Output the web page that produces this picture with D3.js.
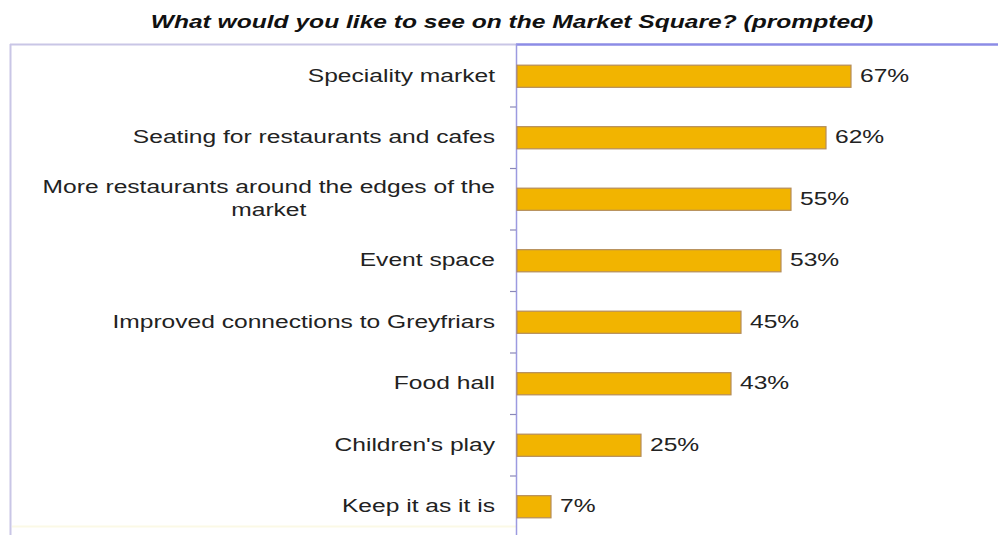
<!DOCTYPE html>
<html>
<head>
<meta charset="utf-8">
<script src="https://cdn.jsdelivr.net/npm/d3@7"></script>
<style>
  html, body { margin: 0; padding: 0; background: #ffffff; }
  svg { display: block; }
</style>
</head>
<body>
<svg id="chart" width="998" height="535"></svg>
<script>
// Survey responses, prompted
const categories = [
  "Speciality market",
  "Seating for restaurants and cafes",
  "More restaurants around the edges of the\nmarket",
  "Event space",
  "Improved connections to Greyfriars",
  "Food hall",
  "Children's play",
  "Keep it as it is"
];
const values = [67, 62, 55, 53, 45, 43, 25, 7];
const titleText = "What would you like to see on the Market Square? (prompted)";

const W = 998, H = 535;
const plotLeft = 516, plotTop = 45.5, plotBottom = 537.5;
const font = "'Liberation Sans', Arial, sans-serif";
const fontSize = 18.5;
const stretch = 1.33;   // text is drawn wide

const svg = d3.select("#chart");

const x = d3.scaleLinear().domain([0, 100]).range([plotLeft, plotLeft + 500]);
const y = d3.scaleBand().domain(categories)
  .range([plotTop, plotBottom]).paddingInner(0.64).paddingOuter(0.32);

// outer chart frame
svg.append("line").attr("x1", 10.5).attr("x2", 10.5).attr("y1", 44).attr("y2", H)
  .attr("stroke", "#c9c6e6").attr("stroke-width", 2);
svg.append("line").attr("x1", 10).attr("x2", plotLeft).attr("y1", 44.5).attr("y2", 44.5)
  .attr("stroke", "#c9c6e6").attr("stroke-width", 2);
svg.append("line").attr("x1", 12).attr("x2", plotLeft).attr("y1", 526.5).attr("y2", 526.5)
  .attr("stroke", "#fbf9e6").attr("stroke-width", 2);

// plot area top border
svg.append("line").attr("x1", plotLeft).attr("x2", W).attr("y1", 44.5).attr("y2", 44.5)
  .attr("stroke", "#8c8ce6").attr("stroke-width", 2.5);

// title
svg.append("g")
  .attr("transform", `translate(512,28) scale(${stretch},1)`)
  .append("text")
  .attr("text-anchor", "middle")
  .style("font-family", font)
  .style("font-size", fontSize + "px")
  .style("font-weight", "bold")
  .style("font-style", "italic")
  .style("fill", "#111")
  .text(titleText);

// category axis line and ticks between bands
const step = y.step();
svg.append("line").attr("x1", plotLeft + 0.5).attr("x2", plotLeft + 0.5)
  .attr("y1", 44).attr("y2", H)
  .attr("stroke", "#9c9ae0").attr("stroke-width", 1.5);
svg.selectAll("line.tick").data(categories.slice(1)).join("line")
  .attr("class", "tick")
  .attr("x1", plotLeft - 6).attr("x2", plotLeft)
  .attr("y1", d => y(d) - y.paddingInner() * step / 2)
  .attr("y2", d => y(d) - y.paddingInner() * step / 2)
  .attr("stroke", "#8a88b8").attr("stroke-width", 1.2);

// bars
svg.selectAll("rect.bar").data(categories).join("rect")
  .attr("class", "bar")
  .attr("x", x(0) + 1)
  .attr("y", d => y(d))
  .attr("width", (d, i) => x(values[i]) - x(0) - 1)
  .attr("height", y.bandwidth())
  .attr("fill", "#f2b400")
  .attr("stroke", "#b48c5a")
  .attr("stroke-width", 1.2);

// value labels
svg.selectAll("g.val").data(categories).join("g")
  .attr("class", "val")
  .attr("transform", (d, i) =>
    `translate(${x(values[i]) + 9},${y(d) + y.bandwidth() / 2}) scale(${stretch},1)`)
  .append("text")
  .attr("dy", "0.3em")
  .style("font-family", font)
  .style("font-size", fontSize + "px")
  .style("fill", "#222")
  .text((d, i) => values[i] + "%");

// category labels, right-aligned; wrapped lines centred on each other
const labelRight = 495, lineH = 23;
categories.forEach(c => {
  const lines = c.split("\n");
  const cy = y(c) + y.bandwidth() / 2;
  const g = svg.append("g")
    .attr("transform", `translate(${labelRight},${cy}) scale(${stretch},1)`);
  const t = g.append("text")
    .style("font-family", font)
    .style("font-size", fontSize + "px")
    .style("fill", "#222");
  const spans = lines.map((ln, k) => t.append("tspan")
    .attr("y", (k - (lines.length - 1) / 2) * lineH)
    .attr("dy", "0.3em")
    .text(ln));
  const wMax = d3.max(spans, s => s.node().getComputedTextLength());
  spans.forEach(s => s.attr("x", -wMax / 2).attr("text-anchor", "middle"));
});
</script>
</body>
</html>
